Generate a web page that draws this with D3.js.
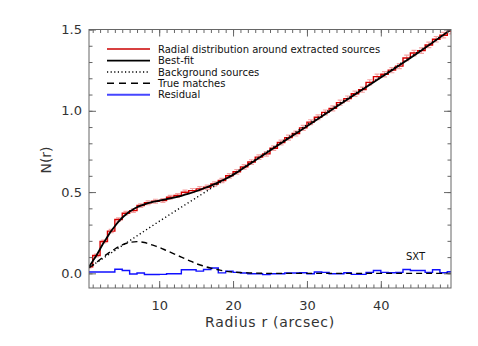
<!DOCTYPE html>
<html>
<head>
<meta charset="utf-8">
<script src="https://cdn.jsdelivr.net/npm/d3@7"></script>
<style>
  body { margin: 0; background: #fff; }
  svg { display: block; }
  text { font-family: "DejaVu Sans", sans-serif; }
</style>
</head>
<body>
<svg id="chart"></svg>
<script>
// histogram: bins [k, k+1], k = 0..49
const histVals = [0.04, 0.110, 0.196, 0.26, 0.331, 0.37, 0.386, 0.417, 0.434, 0.444,
    0.448, 0.468, 0.479, 0.499, 0.509, 0.52, 0.53, 0.55, 0.571, 0.60,
    0.625, 0.655, 0.685, 0.715, 0.735, 0.77, 0.805, 0.835, 0.86, 0.895,
    0.93, 0.96, 0.99, 1.015, 1.05, 1.075, 1.105, 1.13, 1.175, 1.21,
    1.225, 1.25, 1.275, 1.325, 1.355, 1.37, 1.405, 1.44, 1.465, 1.49];
const histErrs = [0.006, 0.008, 0.009, 0.010, 0.010, 0.011, 0.011, 0.011, 0.012, 0.012,
    0.012, 0.012, 0.012, 0.013, 0.013, 0.013, 0.013, 0.013, 0.013, 0.014,
    0.014, 0.014, 0.014, 0.014, 0.014, 0.014, 0.015, 0.015, 0.015, 0.015,
    0.015, 0.015, 0.015, 0.015, 0.016, 0.016, 0.016, 0.016, 0.016, 0.016,
    0.016, 0.016, 0.016, 0.017, 0.017, 0.017, 0.017, 0.017, 0.017, 0.017];
const residVals = [0.008, 0.008, 0.008, 0.008, 0.025, 0.018, -0.004, 0.002, -0.007, -0.007,
    -0.006, -0.002, -0.002, 0.022, 0.022, 0.014, 0.024, 0.033, 0.003, 0.014,
    0.006, 0.002, -0.002, -0.002, -0.008, -0.002, -0.002, 0.002, 0.002, 0.004,
    -0.002, 0.008, 0.006, -0.002, -0.002, 0.004, -0.006, -0.006, 0.006, 0.018,
    0.006, 0.004, 0.006, 0.024, 0.018, 0.018, 0.006, 0.022, 0.004, 0.010];

// smooth curves, sampled at radii
const fitR   = [0.5, 1, 1.5, 2, 2.5, 3, 3.5, 4, 4.5, 5, 5.5, 6, 6.5, 7, 7.5, 8, 9, 10, 11, 12, 13, 14, 15, 16, 17, 18, 19, 20, 22, 25, 30, 35, 40, 45, 49.5];
const fitVal = [0.04, 0.075, 0.11, 0.15, 0.19, 0.225, 0.26, 0.29, 0.318, 0.342, 0.362, 0.38, 0.395, 0.407, 0.417, 0.425, 0.438, 0.447, 0.456, 0.466, 0.477, 0.49, 0.505, 0.522, 0.54, 0.56, 0.582, 0.606, 0.665, 0.755, 0.905, 1.055, 1.205, 1.355, 1.5];
const bgR    = [0.5, 10, 20, 30, 40, 49.5];
const bgVal  = [0.035, 0.32, 0.61, 0.915, 1.21, 1.5];
const trueR  = [0.5, 1, 2, 3, 4, 5, 6, 7, 8, 9, 10, 11, 12, 13, 14, 15, 16, 17, 18, 19, 20, 22, 25, 30, 49.5];
const trueVal = [0.035, 0.05, 0.085, 0.12, 0.15, 0.175, 0.19, 0.195, 0.19, 0.175, 0.16, 0.14, 0.12, 0.1, 0.08, 0.06, 0.045, 0.032, 0.022, 0.013, 0.008, 0.003, 0.0, 0.0, 0.0];

const legendLabels = ['Radial distribution around extracted sources', 'Best-fit',
    'Background sources', 'True matches', 'Residual'];
const xTicksMajor = [10, 20, 30, 40];
const yTicksMajor = [0.0, 0.5, 1.0, 1.5];

const width = 478, height = 346;
const margin = {top: 29.5, right: 27, bottom: 58, left: 89};
const innerW = width - margin.left - margin.right;
const innerH = height - margin.top - margin.bottom;

const svg = d3.select('#chart').attr('width', width).attr('height', height);
svg.append('rect').attr('width', width).attr('height', height).attr('fill', '#fff');

const chart = svg.append('g')
    .attr('transform', `translate(${margin.left}, ${margin.top})`);

const xscale = d3.scaleLinear().domain([0.5, 49.5]).range([0, innerW]);
const yscale = d3.scaleLinear().domain([-0.09, 1.5]).range([innerH, 0]);

chart.append('clipPath').attr('id', 'clip')
    .append('rect').attr('width', innerW).attr('height', innerH);
const plot = chart.append('g').attr('clip-path', 'url(#clip)');

// axes (ticks point inward)
const axisColor = '#666';
const minorX = d3.range(1, 50, 1);
const minorY = d3.range(-0.0, 1.51, 0.1).map(v => +v.toFixed(1));

function styleAxis(g) {
    g.select('.domain').remove();
    g.selectAll('line').attr('stroke', axisColor);
    g.selectAll('text').attr('fill', '#333').style('font-size', '13px')
        .style('font-family', '"DejaVu Sans", sans-serif');
}

chart.append('g').attr('transform', `translate(0, ${innerH})`)
    .call(d3.axisBottom(xscale).tickValues(minorX).tickSize(-3.5).tickFormat(''))
    .call(styleAxis);
chart.append('g').attr('transform', `translate(0, ${innerH})`)
    .call(d3.axisBottom(xscale).tickValues(xTicksMajor).tickSize(-7).tickPadding(13).tickFormat(d3.format('d')))
    .call(styleAxis);
chart.append('g')
    .call(d3.axisTop(xscale).tickValues(minorX).tickSize(-3.5).tickFormat(''))
    .call(styleAxis);
chart.append('g')
    .call(d3.axisTop(xscale).tickValues(xTicksMajor).tickSize(-7).tickFormat(''))
    .call(styleAxis);

chart.append('g')
    .call(d3.axisLeft(yscale).tickValues(minorY).tickSize(-3.5).tickFormat(''))
    .call(styleAxis);
chart.append('g')
    .call(d3.axisLeft(yscale).tickValues(yTicksMajor).tickSize(-7).tickPadding(7).tickFormat(d3.format('.1f')))
    .call(styleAxis);
chart.append('g').attr('transform', `translate(${innerW}, 0)`)
    .call(d3.axisRight(yscale).tickValues(minorY).tickSize(-3.5).tickFormat(''))
    .call(styleAxis);
chart.append('g').attr('transform', `translate(${innerW}, 0)`)
    .call(d3.axisRight(yscale).tickValues(yTicksMajor).tickSize(-7).tickFormat(''))
    .call(styleAxis);

chart.append('rect')
    .attr('x', 0).attr('y', 0).attr('width', innerW).attr('height', innerH)
    .attr('fill', 'none').attr('stroke', axisColor).attr('stroke-width', 1);

// error bars
const errColor = '#f4a3a3';
const errs = plot.selectAll('.err').data(histVals.map((v, i) => ({c: i + 0.5, v, e: histErrs[i]})))
    .join('g').attr('class', 'err');
errs.append('line')
    .attr('x1', d => xscale(d.c)).attr('x2', d => xscale(d.c))
    .attr('y1', d => yscale(d.v - d.e)).attr('y2', d => yscale(d.v + d.e));
errs.append('line')
    .attr('x1', d => xscale(d.c) - 2.5).attr('x2', d => xscale(d.c) + 2.5)
    .attr('y1', d => yscale(d.v + d.e)).attr('y2', d => yscale(d.v + d.e));
errs.append('line')
    .attr('x1', d => xscale(d.c) - 2.5).attr('x2', d => xscale(d.c) + 2.5)
    .attr('y1', d => yscale(d.v - d.e)).attr('y2', d => yscale(d.v - d.e));
errs.selectAll('line').attr('stroke', errColor).attr('stroke-width', 1.2);

// step histograms
const stepLine = d3.line().x(d => xscale(d[0])).y(d => yscale(d[1])).curve(d3.curveStepAfter);
function stepPoints(vals) {
    const pts = vals.map((v, i) => [i, v]);
    pts.push([vals.length, vals[vals.length - 1]]);
    return pts;
}

plot.append('path').datum(stepPoints(histVals))
    .attr('d', stepLine).attr('fill', 'none')
    .attr('stroke', '#d80000').attr('stroke-width', 1.4);

plot.append('path').datum(stepPoints(residVals))
    .attr('d', stepLine).attr('fill', 'none')
    .attr('stroke', '#1010ff').attr('stroke-width', 1.4);

// smooth curves
const smooth = d3.line().x(d => xscale(d[0])).y(d => yscale(d[1])).curve(d3.curveMonotoneX);

plot.append('path').datum(bgR.map((r, i) => [r, bgVal[i]]))
    .attr('d', smooth).attr('fill', 'none')
    .attr('stroke', '#000').attr('stroke-width', 1.4).attr('stroke-dasharray', '1.2,2.6');

plot.append('path').datum(trueR.map((r, i) => [r, trueVal[i]]))
    .attr('d', smooth).attr('fill', 'none')
    .attr('stroke', '#000').attr('stroke-width', 1.4).attr('stroke-dasharray', '6,4');

plot.append('path').datum(fitR.map((r, i) => [r, fitVal[i]]))
    .attr('d', smooth).attr('fill', 'none')
    .attr('stroke', '#000').attr('stroke-width', 1.8);

// SXT label
chart.append('text')
    .attr('x', xscale(43.4)).attr('y', yscale(0.08))
    .style('font-size', '10px').attr('fill', '#111')
    .text('SXT');

// legend
const legendStyles = [
    {stroke: '#d84040', dash: null, w: 2},
    {stroke: '#000', dash: null, w: 1.6},
    {stroke: '#000', dash: '1.2,2.4', w: 1.3},
    {stroke: '#000', dash: '7,5', w: 1.5},
    {stroke: '#4646ff', dash: null, w: 2}
];
const legend = svg.append('g');
const rowY = [49, 60.6, 72, 83.3, 94.7];
legendLabels.forEach((lab, i) => {
    const s = legendStyles[i];
    legend.append('line')
        .attr('x1', 107).attr('x2', 150).attr('y1', rowY[i]).attr('y2', rowY[i])
        .attr('stroke', s.stroke).attr('stroke-width', s.w)
        .attr('stroke-dasharray', s.dash);
    legend.append('text')
        .attr('x', 158).attr('y', rowY[i] + 3.7)
        .style('font-size', '10px').attr('fill', '#111')
        .text(lab);
});

// axis titles
svg.append('text')
    .attr('x', margin.left + innerW / 2).attr('y', 327)
    .attr('text-anchor', 'middle')
    .style('font-size', '14px').style('letter-spacing', '0.7px').attr('fill', '#333')
    .text('Radius r (arcsec)');

svg.append('text')
    .attr('transform', 'rotate(-90)')
    .attr('x', -160).attr('y', 51)
    .attr('text-anchor', 'middle')
    .style('font-size', '14px').attr('fill', '#333')
    .text('N(r)');
</script>
</body>
</html>
